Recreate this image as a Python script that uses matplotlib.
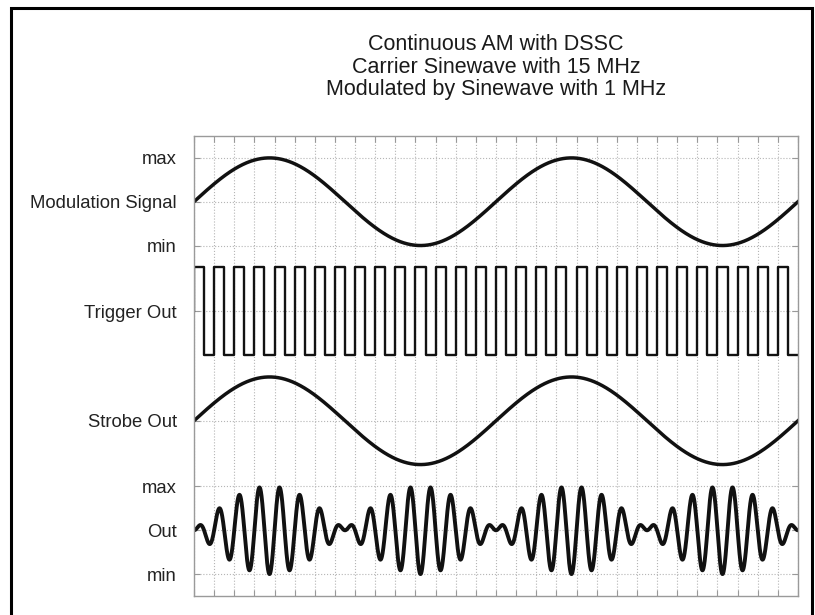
import numpy as np
import matplotlib
matplotlib.use("Agg")
import matplotlib.pyplot as plt
from matplotlib.patches import Rectangle

plt.rcParams['font.family'] = ['Liberation Sans', 'DejaVu Sans']

# ---- signal parameters ----
carrier_freq_mhz = 15.0
mod_freq_mhz = 1.0
duration_us = 2.0

title_lines = ["Continuous AM with DSSC",
               "Carrier Sinewave with 15 MHz",
               "Modulated by Sinewave with 1 MHz"]

# channel centre offsets (in amplitude units) and tick labels
mod_offset = 7.5
trigger_offset = 5.0
strobe_offset = 2.5
out_offset = 0.0
ytick_pos = [8.5, 7.5, 6.5, 5.0, 2.5, 1.0, 0.0, -1.0]
ytick_labels = ["max", "Modulation Signal", "min", "Trigger Out",
                "Strobe Out", "max", "Out", "min"]

# ---- signals ----
t = np.linspace(0, duration_us, 6001)
mod = np.sin(2 * np.pi * mod_freq_mhz * t)
carrier = np.sin(2 * np.pi * carrier_freq_mhz * t)
out = mod * carrier

n_half = int(round(duration_us * carrier_freq_mhz * 2))
edges = np.arange(n_half + 1) / (2 * carrier_freq_mhz)
levels = np.where(np.arange(n_half) % 2 == 0, 1.0, -1.0)
sq_x = np.concatenate([[0.0], np.repeat(edges, 2)[1:-1]])
sq_y = np.concatenate([[0.0], np.repeat(levels, 2)])

W, H = 815, 615
fig = plt.figure(figsize=(W / 100, H / 100), dpi=100)
ax = fig.add_axes([194 / W, (H - 596) / H, (798 - 194) / W, (596 - 136) / H])

ink = '#111111'
ax.plot(t, mod + mod_offset, color=ink, lw=2.5)
ax.plot(sq_x, sq_y + trigger_offset, color=ink, lw=1.7)
ax.plot(t, mod + strobe_offset, color=ink, lw=2.5)
ax.plot(t, out + out_offset, color=ink, lw=2.8)

ax.set_xlim(0, duration_us)
ax.set_ylim(-1.5, 9.0)
ax.set_xticks(np.arange(0, int(duration_us * carrier_freq_mhz) + 1) / carrier_freq_mhz)
ax.set_xticklabels([])
ax.set_yticks(ytick_pos)
ax.set_yticklabels(ytick_labels)
ax.tick_params(direction='in', length=4.5, width=0.8, color='#999999',
               top=True, right=True, labelsize=13.3, pad=12.5, labelcolor='#222222')
ax.grid(True, linestyle=':', color='#b5b5b5', lw=0.8)
for s in ax.spines.values():
    s.set_color('#9a9a9a')
    s.set_linewidth(1.0)

cx = (194 + 798) / 2 / W
for i, line in enumerate(title_lines):
    fig.text(cx, (H - (45 + 22.5 * i)) / H, line, ha='center', va='center',
             fontsize=15.5, color='#1a1a1a')

fig.patches.append(Rectangle((10.5 / W, -0.05), (812 - 10.5) / W, 1.05 - 7.5 / H,
                             transform=fig.transFigure, fill=False,
                             edgecolor='black', lw=2.2, clip_on=False))

fig.savefig("out.png", dpi=100)
